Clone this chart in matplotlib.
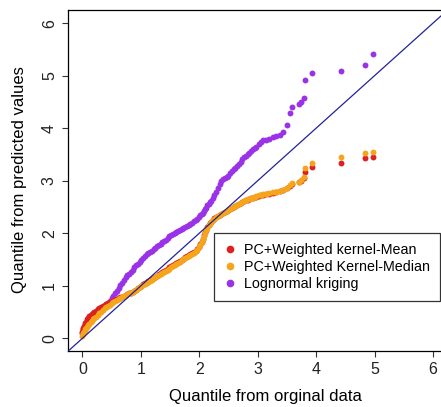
import matplotlib
matplotlib.use("Agg")
import matplotlib.pyplot as plt

plt.rcParams["font.family"] = ["Liberation Sans", "DejaVu Sans"]

# observed quantiles (shared x for all three QQ series)
q_obs = [0.00, 0.01, 0.02, 0.03, 0.04, 0.05, 0.06, 0.08, 0.10, 0.12,
         0.14, 0.16, 0.18, 0.20, 0.23, 0.26, 0.29, 0.32, 0.35, 0.38,
         0.41, 0.44, 0.47, 0.50, 0.53, 0.56, 0.59, 0.62, 0.65, 0.68,
         0.71, 0.74, 0.77, 0.80, 0.83, 0.86, 0.89, 0.92, 0.95, 0.98,
         1.01, 1.04, 1.07, 1.10, 1.13, 1.16, 1.19, 1.22, 1.25, 1.28,
         1.31, 1.34, 1.37, 1.40, 1.43, 1.46, 1.49, 1.52, 1.55, 1.58,
         1.61, 1.64, 1.67, 1.70, 1.73, 1.76, 1.79, 1.82, 1.85, 1.88,
         1.91, 1.94, 1.97, 2.00, 2.02, 2.04, 2.06, 2.08, 2.10, 2.12,
         2.14, 2.16, 2.18, 2.20, 2.23, 2.26, 2.29, 2.32, 2.35, 2.38,
         2.41, 2.44, 2.47, 2.50, 2.53, 2.56, 2.59, 2.62, 2.65, 2.68,
         2.71, 2.74, 2.77, 2.80, 2.83, 2.86, 2.89, 2.92, 2.95, 2.98,
         3.02, 3.06, 3.10, 3.15, 3.20, 3.26, 3.32, 3.38, 3.44, 3.50,
         3.55, 3.59, 3.70, 3.75, 3.79, 3.81, 3.93, 4.42, 4.84, 4.97]

# PC+Weighted kernel-Mean
q_mean = [0.12, 0.17, 0.20, 0.23, 0.26, 0.30, 0.32, 0.36, 0.39, 0.42,
          0.44, 0.46, 0.48, 0.50, 0.52, 0.55, 0.57, 0.59, 0.61, 0.63,
          0.65, 0.67, 0.69, 0.70, 0.72, 0.73, 0.75, 0.76, 0.78, 0.79,
          0.81, 0.82, 0.84, 0.86, 0.87, 0.89, 0.91, 0.93, 0.96, 0.98,
          1.00, 1.03, 1.05, 1.07, 1.09, 1.11, 1.13, 1.15, 1.17, 1.19,
          1.22, 1.24, 1.26, 1.28, 1.30, 1.33, 1.35, 1.37, 1.39, 1.41,
          1.43, 1.45, 1.47, 1.50, 1.52, 1.54, 1.56, 1.58, 1.60, 1.62,
          1.64, 1.67, 1.70, 1.74, 1.79, 1.84, 1.90, 1.96, 2.02, 2.07,
          2.12, 2.16, 2.19, 2.22, 2.26, 2.29, 2.31, 2.33, 2.35, 2.37,
          2.39, 2.41, 2.42, 2.44, 2.46, 2.48, 2.50, 2.52, 2.54, 2.56,
          2.58, 2.60, 2.62, 2.63, 2.64, 2.66, 2.67, 2.68, 2.69, 2.70,
          2.71, 2.72, 2.73, 2.74, 2.75, 2.76, 2.78, 2.80, 2.82, 2.86,
          2.90, 2.93, 2.97, 3.00, 3.06, 3.17, 3.27, 3.33, 3.43, 3.45]

# PC+Weighted Kernel-Median
q_median = [0.05, 0.08, 0.10, 0.12, 0.14, 0.17, 0.19, 0.22, 0.25, 0.28,
            0.31, 0.33, 0.36, 0.38, 0.41, 0.45, 0.48, 0.51, 0.54, 0.57,
            0.59, 0.62, 0.64, 0.67, 0.69, 0.71, 0.73, 0.75, 0.77, 0.79,
            0.81, 0.82, 0.84, 0.86, 0.87, 0.89, 0.91, 0.93, 0.95, 0.97,
            0.99, 1.01, 1.03, 1.05, 1.07, 1.09, 1.12, 1.14, 1.16, 1.18,
            1.21, 1.23, 1.25, 1.27, 1.29, 1.31, 1.33, 1.36, 1.38, 1.40,
            1.42, 1.44, 1.46, 1.49, 1.51, 1.53, 1.55, 1.57, 1.59, 1.61,
            1.63, 1.66, 1.69, 1.73, 1.78, 1.83, 1.89, 1.95, 2.01, 2.06,
            2.11, 2.15, 2.18, 2.21, 2.25, 2.28, 2.31, 2.33, 2.35, 2.37,
            2.39, 2.41, 2.42, 2.44, 2.46, 2.48, 2.50, 2.52, 2.54, 2.56,
            2.58, 2.60, 2.62, 2.63, 2.65, 2.66, 2.67, 2.68, 2.70, 2.71,
            2.72, 2.73, 2.74, 2.75, 2.77, 2.78, 2.79, 2.81, 2.83, 2.87,
            2.91, 2.95, 2.98, 3.02, 3.08, 3.24, 3.33, 3.45, 3.52, 3.54]

# Lognormal kriging
q_krig = [0.10, 0.13, 0.16, 0.19, 0.21, 0.24, 0.26, 0.30, 0.33, 0.36,
          0.38, 0.41, 0.43, 0.45, 0.48, 0.51, 0.54, 0.57, 0.60, 0.62,
          0.65, 0.68, 0.72, 0.77, 0.81, 0.86, 0.91, 0.96, 1.01, 1.06,
          1.11, 1.16, 1.20, 1.23, 1.27, 1.31, 1.35, 1.39, 1.42, 1.46,
          1.49, 1.53, 1.57, 1.60, 1.62, 1.65, 1.67, 1.70, 1.72, 1.75,
          1.78, 1.80, 1.83, 1.86, 1.88, 1.91, 1.94, 1.97, 1.99, 2.01,
          2.03, 2.05, 2.07, 2.09, 2.10, 2.12, 2.14, 2.16, 2.18, 2.20,
          2.23, 2.25, 2.28, 2.31, 2.34, 2.36, 2.39, 2.43, 2.46, 2.49,
          2.53, 2.56, 2.59, 2.62, 2.67, 2.72, 2.79, 2.86, 2.93, 2.99,
          3.03, 3.05, 3.08, 3.10, 3.14, 3.18, 3.22, 3.25, 3.28, 3.31,
          3.36, 3.42, 3.45, 3.48, 3.51, 3.53, 3.56, 3.60, 3.62, 3.65,
          3.70, 3.74, 3.77, 3.78, 3.80, 3.84, 3.86, 3.88, 3.93, 4.06,
          4.29, 4.41, 4.46, 4.50, 4.57, 4.92, 5.06, 5.09, 5.21, 5.41]

labels = ["PC+Weighted kernel-Mean", "PC+Weighted Kernel-Median", "Lognormal kriging"]
colors = ["#dd2020", "#f5a51c", "#9a32e8"]

W, H = 441, 407
fig = plt.figure(figsize=(W / 100, H / 100), dpi=100)
# axes box in pixel terms: left 68, bottom 351, top 10, right runs off the image
ax = fig.add_axes([68 / W, (H - 351) / H, (447.3 - 68) / W, (351 - 10) / H])

ax.scatter(q_obs, q_krig, s=18, color=colors[2], linewidths=0, zorder=2)
ax.scatter(q_obs, q_mean, s=18, color=colors[0], linewidths=0, zorder=3)
ax.scatter(q_obs, q_median, s=18, color=colors[1], linewidths=0, zorder=4)
ax.axline((0, 0), slope=1, color="#22229a", lw=0.9, zorder=5)

ax.set_xlim(-0.245, 6.245)
ax.set_ylim(-0.24, 6.25)
ax.set_xticks(range(7))
ax.set_yticks(range(7))
ax.tick_params(axis="both", direction="out", length=4, width=0.8,
               labelsize=11.5, color="#333333", labelcolor="#222222")
ax.tick_params(axis="x", pad=4)
ax.tick_params(axis="y", pad=4, labelrotation=90)
for t in ax.get_yticklabels():
    t.set_va("center")
for s in ax.spines.values():
    s.set_linewidth(0.9)

fig.text(265 / W, 1 - 397 / H, "Quantile from orginal data",
         ha="center", va="center", fontsize=12)
fig.text(20 / W, 1 - 180 / H, "Quantile from predicted values",
         ha="center", va="center", rotation=90, fontsize=12)

handles = [plt.Line2D([], [], ls="none", marker="o", ms=4.5,
                      mfc=c, mec=c) for c in colors]
leg = ax.legend(handles, labels, loc="upper left",
                bbox_to_anchor=(214 / W, 1 - 233 / H),
                bbox_transform=fig.transFigure, fontsize=10.3,
                frameon=True, fancybox=False, framealpha=1,
                edgecolor="#333333", borderpad=0.7, labelspacing=0.2,
                handlelength=0.8, handletextpad=0.6, borderaxespad=0)
leg.get_frame().set_linewidth(0.9)

fig.savefig("out.png", dpi=100)
